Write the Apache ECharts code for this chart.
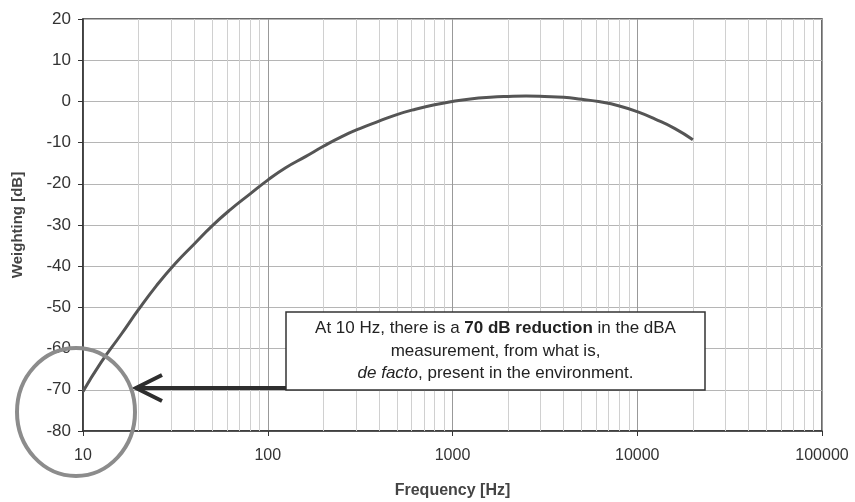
<!DOCTYPE html>
<html>
<head>
<meta charset="utf-8">
<script src="https://cdn.jsdelivr.net/npm/echarts@6/dist/echarts.min.js"></script>
<style>html,body{margin:0;padding:0;background:#fff}#c{width:855px;height:502px}</style>
</head>
<body>
<div id="c"></div>
<script>
// Frequencies (Hz) and A-weighting values (dB)
const freqs = [10, 12.5, 16, 20, 25, 31.5, 40, 50, 63, 80, 100, 125, 160, 200, 250, 315, 400, 500, 630, 800, 1000, 1250, 1600, 2000, 2500, 3150, 4000, 5000, 6300, 8000, 10000, 12500, 16000, 20000];
const weights = [-70.4, -63.4, -56.7, -50.5, -44.7, -39.4, -34.6, -30.2, -26.2, -22.5, -19.1, -16.1, -13.4, -10.9, -8.6, -6.6, -4.8, -3.2, -1.9, -0.8, 0, 0.6, 1.0, 1.2, 1.3, 1.2, 1.0, 0.5, -0.1, -1.1, -2.5, -4.3, -6.6, -9.3];
const xTickLabels = ['10', '100', '1000', '10000', '100000'];
const yTicks = [-80, -70, -60, -50, -40, -30, -20, -10, 0, 10, 20];
const minorMultipliers = [2, 3, 4, 5, 6, 7, 8, 9];
const decades = [10, 100, 1000, 10000];

const minorLines = [];
decades.forEach(d => minorMultipliers.forEach(m => minorLines.push({ xAxis: d * m })));

const chart = echarts.init(document.getElementById('c'), null, { renderer: 'canvas' });
const font = 'Liberation Sans, Arial, sans-serif';

chart.setOption({
  animation: false,
  backgroundColor: '#fff',
  grid: { left: 83, right: 33, top: 19, bottom: 71, show: true, borderColor: '#3a3a3a', borderWidth: 1.5,
    containLabel: false, outerBoundsMode: 'none' },
  xAxis: {
    type: 'log', logBase: 10, min: 10, max: 100000,
    name: 'Frequency [Hz]', nameLocation: 'middle', nameGap: 52,
    nameTextStyle: { fontFamily: font, fontSize: 16, fontWeight: 'bold', color: '#444' },
    axisLine: { show: true, onZero: false, lineStyle: { color: '#333', width: 1.5 } },
    axisTick: { show: true, length: 5, lineStyle: { color: '#333' } },
    axisLabel: { fontFamily: font, fontSize: 16, color: '#333', margin: 17,
      formatter: v => { const s = String(Math.round(v)); return xTickLabels.includes(s) ? s : ''; } },
    splitLine: { show: true, lineStyle: { color: '#999', width: 1 } },
    minorTick: { show: false }, minorSplitLine: { show: false }
  },
  yAxis: {
    type: 'value', min: -80, max: 20, interval: 10,
    name: 'Weighting [dB]', nameLocation: 'middle', nameGap: 58,
    nameTextStyle: { fontFamily: font, fontSize: 15, fontWeight: 'bold', color: '#444' },
    axisLine: { show: true, onZero: false, lineStyle: { color: '#333', width: 1.5 } },
    axisTick: { show: true, length: 5, lineStyle: { color: '#333' } },
    axisLabel: { fontFamily: font, fontSize: 17, color: '#333', margin: 12,
      formatter: v => yTicks.includes(v) ? String(v) : '' },
    splitLine: { show: true, lineStyle: { color: '#b5b5b5', width: 1 } }
  },
  series: [{
    type: 'line',
    data: freqs.map((f, i) => [f, weights[i]]),
    showSymbol: false, smooth: true,
    lineStyle: { color: '#555', width: 3 },
    z: 5,
    markLine: {
      silent: true, symbol: ['none', 'none'], label: { show: false },
      lineStyle: { color: '#d0d0d0', width: 1, type: 'solid' },
      data: minorLines, z: 1
    }
  }],
  graphic: [
    { type: 'rect', shape: { x: 286, y: 312, width: 419, height: 78 },
      style: { fill: '#fff', stroke: '#333', lineWidth: 1.5 }, z: 100 },
    { type: 'text', x: 495.5, y: 351, z: 101,
      style: {
        text: 'At 10 Hz, there is a {b|70 dB reduction} in the dBA\nmeasurement, from what is,\n{i|de facto}, present in the environment.',
        align: 'center', verticalAlign: 'middle', fontFamily: font, fontSize: 17, lineHeight: 22.5, fill: '#222',
        rich: {
          b: { fontFamily: font, fontSize: 17, fontWeight: 'bold', fill: '#222', lineHeight: 22.5 },
          i: { fontFamily: font, fontSize: 17, fontStyle: 'italic', fill: '#222', lineHeight: 22.5 }
        }
      } },
    { type: 'line', shape: { x1: 286, y1: 388, x2: 140, y2: 388 },
      style: { stroke: '#2e2e2e', lineWidth: 4 }, z: 102 },
    { type: 'polyline', shape: { points: [[162, 375], [136, 388], [162, 401]] },
      style: { stroke: '#2e2e2e', lineWidth: 4, fill: null, lineJoin: 'miter' }, z: 102 },
    { type: 'ellipse', shape: { cx: 76, cy: 412, rx: 59, ry: 64 },
      style: { stroke: '#8c8c8c', lineWidth: 4, fill: null }, z: 103 }
  ]
});
</script>
</body>
</html>
